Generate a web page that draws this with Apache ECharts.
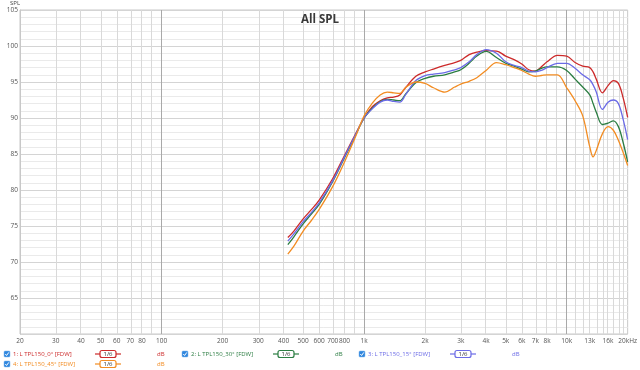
<!DOCTYPE html>
<html><head><meta charset="utf-8">
<script src="https://cdn.jsdelivr.net/npm/echarts@6/dist/echarts.min.js"></script>
<style>html,body{margin:0;padding:0;background:#fff}#c{width:640px;height:370px}</style>
</head><body><div id="c"></div>
<script>
// Frequencies (Hz) shared by all measured curves
const freqs = [420, 450, 500, 550, 600, 700, 800, 900, 1000, 1100, 1200, 1300, 1400, 1500, 1600, 1800, 2000, 2200, 2500, 2800, 3000, 3300, 3600, 4000, 4500, 5000, 5500, 6000, 6500, 7000, 7500, 8000, 9000, 10000, 11000, 12000, 13000, 13500, 14000, 15000, 16000, 17000, 18000, 19000, 20000];
// SPL (dB) per curve
const spl0  = [73.4, 74.3, 76.0, 77.3, 78.6, 81.6, 84.8, 87.6, 90.0, 91.6, 92.4, 92.8, 92.9, 93.2, 94.2, 95.8, 96.4, 96.8, 97.3, 97.7, 98.0, 98.8, 99.15, 99.35, 99.3, 98.6, 98.1, 97.5, 96.7, 96.5, 97.1, 97.8, 98.7, 98.6, 97.7, 97.2, 97.0, 96.4, 95.4, 93.5, 94.5, 95.2, 94.8, 92.8, 90.1];
const spl30 = [72.4, 73.5, 75.3, 76.7, 78.0, 81.2, 84.5, 87.4, 90.0, 91.4, 92.3, 92.6, 92.5, 92.4, 93.3, 94.9, 95.5, 95.8, 96.0, 96.4, 96.7, 97.6, 98.6, 99.25, 98.4, 97.6, 97.2, 96.8, 96.4, 96.5, 96.9, 97.1, 97.1, 96.6, 95.4, 94.3, 93.2, 92.0, 90.8, 89.1, 89.3, 89.6, 88.8, 86.6, 83.9];
const spl15 = [72.9, 73.9, 75.6, 76.9, 78.2, 81.3, 84.6, 87.5, 90.0, 91.3, 92.2, 92.5, 92.3, 92.2, 93.2, 95.2, 95.9, 96.1, 96.3, 96.7, 97.0, 97.8, 98.8, 99.5, 99.0, 97.8, 97.3, 97.0, 96.5, 96.4, 96.6, 97.0, 97.6, 97.6, 96.9, 96.0, 95.3, 94.6, 93.6, 91.2, 92.2, 92.5, 92.0, 89.8, 87.0];
const spl45 = [71.1, 72.2, 74.3, 75.8, 77.3, 80.5, 83.9, 87.2, 90.3, 92.1, 93.2, 93.6, 93.5, 93.4, 94.2, 95.0, 94.8, 94.2, 93.6, 94.3, 94.7, 95.1, 95.6, 96.6, 97.7, 97.4, 97.0, 96.6, 96.1, 95.8, 95.9, 96.0, 96.0, 94.2, 92.4, 90.3, 86.0, 84.6, 85.5, 87.8, 88.8, 88.3, 86.9, 85.2, 83.4];

const seriesNames = ['1: L TPL150_0° [FDW]', '2: L TPL150_30° [FDW]', '3: L TPL150_15° [FDW]', '4: L TPL150_45° [FDW]'];
const seriesColors = ['#cc2a2a', '#2b7d42', '#6b6be6', '#f28c22'];

const xTickFreqs  = [20, 30, 40, 50, 60, 70, 80, 100, 200, 300, 400, 500, 600, 700, 800, 1000, 2000, 3000, 4000, 5000, 6000, 7000, 8000, 10000, 13000, 16000, 20000];
const xTickLabels = ['20', '30', '40', '50', '60', '70', '80', '100', '200', '300', '400', '500', '600', '700', '800', '1k', '2k', '3k', '4k', '5k', '6k', '7k', '8k', '10k', '13k', '16k', '20kHz'];
const gridFreqs = [30, 40, 50, 60, 70, 80, 90, 200, 300, 400, 500, 600, 700, 800, 900, 2000, 3000, 4000, 5000, 6000, 7000, 8000, 9000, 11000, 12000, 13000, 14000, 15000, 16000, 17000, 18000, 19000];
const majorGridFreqs = [100, 1000, 10000];
const yLabelValues = [65, 70, 75, 80, 85, 90, 95, 100, 105];

const L = Math.log10;
const FONT = '"Open Sans", "DejaVu Sans", sans-serif';
const allSpl = [spl0, spl30, spl15, spl45];

const chart = echarts.init(document.getElementById('c'), null, {renderer: 'canvas'});

const curveSeries = allSpl.map((arr, i) => ({
  name: seriesNames[i],
  type: 'line',
  data: freqs.map((f, j) => [L(f), arr[j]]),
  smooth: 0.35,
  showSymbol: false,
  symbol: 'none',
  z: 5,
  lineStyle: {color: seriesColors[i], width: 1.3},
  itemStyle: {color: seriesColors[i]},
  animation: false
}));

const gridSeries = {
  type: 'line',
  data: [],
  z: 1,
  silent: true,
  animation: false,
  markLine: {
    silent: true,
    symbol: 'none',
    animation: false,
    label: {show: false},
    data: gridFreqs.map(f => ({xAxis: L(f), lineStyle: {color: '#d9d9d9', width: 1, type: 'solid'}}))
      .concat(majorGridFreqs.map(f => ({xAxis: L(f), lineStyle: {color: '#a9a9a9', width: 1, type: 'solid'}})))
  }
};

// Legend drawn as graphics
const legendPos = [
  {x: 4, y: 354}, {x: 182, y: 354}, {x: 359, y: 354}, {x: 4, y: 364}
];
const graphics = [];
legendPos.forEach((p, i) => {
  const c = seriesColors[i];
  graphics.push({type: 'rect', shape: {x: p.x, y: p.y - 3, width: 6, height: 6, r: 1}, style: {fill: '#2f86de', stroke: '#7fb6ee', lineWidth: 0.5}, silent: true});
  graphics.push({type: 'polyline', shape: {points: [[p.x + 1.3, p.y], [p.x + 2.6, p.y + 1.5], [p.x + 4.8, p.y - 1.6]]}, style: {stroke: '#fff', lineWidth: 1, fill: null}, silent: true});
  graphics.push({type: 'text', x: p.x + 9, y: p.y, style: {text: seriesNames[i], fill: c, font: '6px ' + FONT, verticalAlign: 'middle'}, silent: true});
  const bx = p.x + 104;
  graphics.push({type: 'line', shape: {x1: bx - 13, y1: p.y, x2: bx + 13, y2: p.y}, style: {stroke: c, lineWidth: 1.2}, silent: true});
  graphics.push({type: 'rect', shape: {x: bx - 8, y: p.y - 3.5, width: 16, height: 7, r: 2}, style: {fill: '#fff', stroke: c, lineWidth: 1.2}, silent: true});
  graphics.push({type: 'text', x: bx, y: p.y, style: {text: '1/6', fill: '#333', font: '6px ' + FONT, align: 'center', verticalAlign: 'middle'}, silent: true});
  graphics.push({type: 'text', x: p.x + 153, y: p.y, style: {text: 'dB', fill: c, font: '6px ' + FONT, verticalAlign: 'middle'}, silent: true});
});

const option = {
  backgroundColor: '#ffffff',
  animation: false,
  textStyle: {fontFamily: FONT},
  title: {
    text: 'All SPL', left: 'center', top: 9,
    textStyle: {fontSize: 11.5, fontWeight: 'bold', color: '#3a3a3a', fontFamily: FONT}
  },
  grid: {left: 20, right: 11, top: 10, bottom: 36, show: true, borderColor: '#c8c8c8', borderWidth: 1, backgroundColor: 'transparent'},
  xAxis: {
    type: 'value',
    min: L(20), max: L(20000),
    axisLine: {show: false},
    axisTick: {show: false},
    splitLine: {show: false},
    axisLabel: {
      customValues: xTickFreqs.map(f => L(f)),
      formatter: function (v) {
        let best = 0, bd = 1e9;
        xTickFreqs.forEach((f, k) => { const d = Math.abs(L(f) - v); if (d < bd) { bd = d; best = k; } });
        return xTickLabels[best];
      },
      color: '#555', fontSize: 6.5, margin: 4, fontFamily: FONT, hideOverlap: false
    }
  },
  yAxis: {
    type: 'value', min: 60, max: 105, interval: 1,
    name: 'SPL', nameLocation: 'end', nameGap: 3,
    nameTextStyle: {fontSize: 6, color: '#444', align: 'center', verticalAlign: 'bottom', padding: [0, 10, 0, 0], fontFamily: FONT},
    axisLine: {show: true, lineStyle: {color: '#c8c8c8'}},
    axisTick: {show: false},
    axisLabel: {
      formatter: v => (yLabelValues.indexOf(v) >= 0 ? String(v) : ''),
      color: '#555', fontSize: 6.5, margin: 2, fontFamily: FONT
    },
    splitLine: {show: true, lineStyle: {color: ['#d4d4d4', '#eaeaea', '#eaeaea', '#eaeaea', '#eaeaea'], width: 1}}
  },
  series: [gridSeries].concat(curveSeries),
  graphic: graphics
};
chart.setOption(option);
</script>
</body></html>
